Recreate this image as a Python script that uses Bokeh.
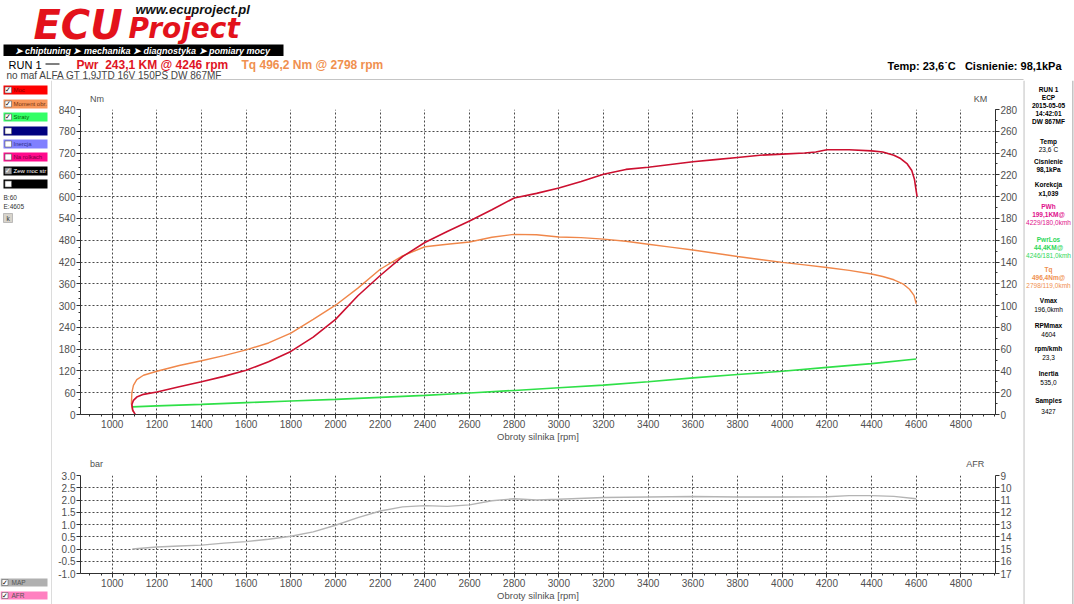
from bokeh.plotting import figure
from bokeh.models import (Range1d, LinearAxis, SingleIntervalTicker, NumeralTickFormatter)
from bokeh.layouts import column, row
from bokeh.core.properties import value
from bokeh.embed import file_html
from bokeh.resources import INLINE

# ---------------- data ----------------
rpm_pwr = [1103, 1092, 1088, 1095, 1110, 1140, 1200, 1300, 1400, 1500, 1600, 1700, 1800, 1900,
           2000, 2100, 2200, 2300, 2400, 2500, 2600, 2700, 2800, 2900, 3000, 3100, 3200, 3300,
           3400, 3500, 3600, 3700, 3800, 3900, 4000, 4100, 4150, 4200, 4246, 4300, 4400, 4450,
           4500, 4530, 4560, 4580, 4592, 4600, 4604]
pwr_km = [0, 4, 9, 13, 16, 18.5, 20.6, 25.5, 30, 35, 40.6, 48.5, 57.9, 71, 87.3, 109, 127.6,
          145, 157.9, 168, 177.6, 188, 198.8, 203, 207.9, 214, 220.6, 225, 227, 229.5, 232,
          234, 236, 238, 239, 240, 241, 243, 243.1, 243, 242, 241, 238, 235, 230, 224, 216,
          205, 200]

rpm_tq = [1092, 1086, 1088, 1095, 1110, 1140, 1200, 1300, 1400, 1500, 1600, 1700, 1800, 1900,
          2000, 2100, 2200, 2300, 2400, 2500, 2600, 2700, 2798, 2900, 3000, 3100, 3200, 3300,
          3400, 3500, 3600, 3700, 3800, 3900, 4000, 4100, 4200, 4300, 4400, 4450, 4500, 4540,
          4570, 4590, 4600]
tq_nm = [8, 30, 60, 80, 96, 108, 119, 135, 148, 162, 178, 197, 224, 262, 301, 348, 400, 437,
         462, 469, 475, 488, 496.2, 495, 489, 487, 483, 477, 469, 461, 453, 444, 435, 427, 419,
         412, 405, 397, 387, 380, 371, 360, 345, 328, 305]

rpm_loss = [1089, 1200, 1400, 1600, 1800, 2000, 2200, 2400, 2600, 2800, 3000, 3200, 3400,
            3600, 3800, 4000, 4200, 4400, 4600]
loss_km = [7, 7.9, 9.3, 10.9, 12.4, 13.9, 15.7, 17.6, 19.8, 22.1, 24.5, 27, 30, 33.6, 36.7,
           39.7, 43.3, 46.7, 50.9]

rpm_map = [1090, 1200, 1300, 1400, 1500, 1600, 1700, 1800, 1900, 2000, 2100, 2200, 2300, 2400,
           2500, 2600, 2700, 2800, 2900, 3000, 3200, 3400, 3600, 3800, 4000, 4200, 4300, 4400,
           4500, 4600]
map_bar = [0.0, 0.08, 0.12, 0.16, 0.24, 0.30, 0.40, 0.52, 0.70, 0.97, 1.28, 1.55, 1.72, 1.77,
           1.74, 1.80, 1.97, 2.05, 2.00, 2.03, 2.10, 2.12, 2.14, 2.12, 2.12, 2.13, 2.18, 2.18,
           2.15, 2.05]

legend_items = ["Moc", "Moment obr.", "Straty", "", "Inercja", "Na rolkach", "Zew moc str", ""]
sidebar_texts = ["RUN 1", "ECP", "2015-05-05", "14:42:01", "DW 867MF", "Temp", "23,6˙C",
                 "Cisnienie", "98,1kPa", "Korekcja", "x1,039", "PWh", "199,1KM@",
                 "4229/180,0kmh", "PwrLos", "44,4KM@", "4246/181,0kmh", "Tq", "496,4Nm@",
                 "2798/119,0kmh", "Vmax", "196,0kmh", "RPMmax", "4604", "rpm/kmh", "23,3",
                 "Inertia", "535,0", "Samples", "3427"]

# ---------------- layout constants ----------------
W = 1074
FONT = "Liberation Sans"
GRID = "#4a4a4a"
PANEL = "#8c8c8c"
LEFT_W, CENTER_W, RIGHT_W = 52, 971, 51
HEADER_H, BODY_H = 80, 524
STRIP1_H, TOP_H, SEP_H, STRIP2_H, BOT_H, LINE_H = 23, 341, 3, 22, 134, 1
AX_L, AX_R = 28, 28


def deco_fig(w, h, bg="white"):
    f = figure(width=w, height=h, x_range=Range1d(0, w), y_range=Range1d(h, 0),
               output_backend="svg", toolbar_location=None, title=None,
               x_axis_type=None, y_axis_type=None, min_border=0)
    f.outline_line_color = None
    f.background_fill_color = bg
    f.border_fill_color = bg
    f.grid.visible = False
    return f


def txt(f, x, y, t, size=10, color="#000000", style="normal", align="left",
        baseline="middle", font=FONT):
    f.text(x=[x], y=[y], text=[t], text_font=value(font), text_font_size=value(f"{size}px"),
           text_color=color, text_font_style=style, text_align=align, text_baseline=baseline)


def rect(f, x0, y0, x1, y1, fill, line=None, lw=1):
    f.quad(left=[x0], right=[x1], top=[y0], bottom=[y1], fill_color=fill,
           line_color=line, line_width=lw)


def style_axis(ax):
    ax.axis_line_color = "#303030"
    ax.major_tick_line_color = "#303030"
    ax.minor_tick_line_color = "#303030"
    ax.major_tick_out = 4
    ax.major_tick_in = 0
    ax.minor_tick_out = 2
    ax.minor_tick_in = 0
    ax.major_label_text_font = FONT
    ax.major_label_text_font_size = "10px"
    ax.major_label_text_color = "#505050"
    ax.major_label_standoff = 1


def chart_fig(h, frame_h, y_range):
    f = figure(width=CENTER_W, height=h, x_range=Range1d(858, 4955), y_range=y_range,
               output_backend="svg", toolbar_location=None, title=None,
               min_border_left=AX_L, min_border_right=AX_R,
               min_border_top=6, min_border_bottom=h - 6 - frame_h)
    f.outline_line_color = None
    f.background_fill_color = "white"
    f.border_fill_color = "white"
    f.xaxis.ticker = SingleIntervalTicker(interval=200, num_minor_ticks=4)
    for ax in f.xaxis + f.yaxis:
        style_axis(ax)
    f.xaxis.axis_label = "Obroty silnika [rpm]"
    f.xaxis.axis_label_standoff = 0
    f.xaxis.axis_label_text_font = FONT
    f.xaxis.axis_label_text_font_size = "9.5px"
    f.xaxis.axis_label_text_font_style = "normal"
    f.xaxis.axis_label_text_color = "#505050"
    for g in (f.xgrid, f.ygrid):
        g.grid_line_color = GRID
        g.grid_line_dash = "2 2"
        g.grid_line_width = 1
    return f


# ---------------- header ----------------
header = deco_fig(W, HEADER_H)
txt(header, 135, 9, "www.ecuproject.pl", size=13, style="bold italic", color="#111111")
txt(header, 33, 24, "ECU", size=40, style="bold italic", color="#e3121b", font="DejaVu Sans")
txt(header, 128, 28, "Project", size=28, style="bold italic", color="#e3121b",
    font="DejaVu Sans")
rect(header, 3, 44, 283, 55.5, "#000000")
txt(header, 14, 50, "➤ chiptuning  ➤ mechanika  ➤ diagnostyka  ➤ pomiary mocy", size=9,
    style="bold italic", color="#ffffff", font=FONT)
txt(header, 8, 64, "RUN 1", size=11)
header.segment(x0=[45], y0=[63.5], x1=[59], y1=[63.5], line_color="#000000", line_width=1)
txt(header, 76, 64, "Pwr\u00a0 243,1 KM @ 4246 rpm", size=12, style="bold", color="#e01424")
txt(header, 241, 64, "Tq 496,2 Nm @ 2798 rpm", size=12, style="bold", color="#f0904f")
txt(header, 6, 75, "no maf ALFA GT 1,9JTD 16V 150PS DW 867MF", size=10, color="#444444")
txt(header, 887, 65, "Temp: 23,6˙C\u00a0\u00a0 Cisnienie: 98,1kPa", size=11, style="bold")
rect(header, LEFT_W, 79, LEFT_W + CENTER_W, 80, PANEL)

# ---------------- left sidebar ----------------
left = deco_fig(LEFT_W, BODY_H)
rect(left, 51.2, 0, 52, BODY_H, PANEL)
legend_fill = ["#ff0000", "#f7965a", "#33ff66", "#000080", "#8080ff", "#ff0a8c", "#000000",
               "#000000"]
legend_text = ["#8b0000", "#7a3510", "#006400", "#000060", "#30308a", "#7a0040", "#ffffff",
               "#000000"]
legend_check = [True, True, True, False, False, False, True, False]
row_y = [5, 19, 32, 46, 59, 72, 86, 99]
for i, y0 in enumerate(row_y):
    rect(left, 3, y0, 47, y0 + 9, legend_fill[i])
    rect(left, 4.5, y0 + 1.5, 11, y0 + 7.5, "#a0a0a0" if i == 6 else "#ffffff",
         line="#606060", lw=0.6)
    if legend_check[i]:
        txt(left, 4.4, y0 + 4.7, "✓", size=7, style="bold",
            color="#ffffff" if i == 6 else "#000000", font="DejaVu Sans")
    if legend_items[i]:
        txt(left, 13, y0 + 4.8, legend_items[i], size=6, color=legend_text[i])
txt(left, 3, 117, "B:60", size=6.5, color="#333333")
txt(left, 3, 126, "E:4605", size=6.5, color="#333333")
rect(left, 3, 133, 12, 142, "#d8d4cc", line="#9a9a9a", lw=0.6)
txt(left, 7.5, 137.5, "k", size=6.5, color="#333333", align="center")
for y0, fill, t in [(498, "#b0b0b0", "MAP"), (511, "#ff80c0", "AFR")]:
    rect(left, 0, y0, 47, y0 + 8, fill)
    rect(left, 1.5, y0 + 1, 7.5, y0 + 7, "#ffffff", line="#606060", lw=0.6)
    txt(left, 1.4, y0 + 4.2, "✓", size=7, style="bold", font="DejaVu Sans")
    txt(left, 11, y0 + 4.3, t, size=6.5, color="#555555")

# ---------------- right sidebar ----------------
right = deco_fig(RIGHT_W, BODY_H)
rect(right, 0, 0, 0.8, BODY_H, PANEL)
rect(right, 49, 0, 49.8, BODY_H, PANEL)
side_y = [9, 17, 25, 33, 41, 61, 69, 81, 89, 104, 113, 126, 134, 142, 159, 167, 175, 189, 197,
          205, 220, 229, 245, 254, 268, 277, 293, 302, 320, 331]
side_col = (["#000000"] * 11 + ["#e0108c"] * 3 + ["#2ed85a"] * 3 + ["#f0904f"] * 3
            + ["#000000"] * 10)
side_bold = [True, True, True, True, True, True, False, True, True, True, True, True, True,
             False, True, True, False, True, True, False, True, False, True, False, True,
             False, True, False, True, False]
for y, t, c, b in zip(side_y, sidebar_texts, side_col, side_bold):
    txt(right, 25, y, t, size=6.5, color=c, style="bold" if b else "normal", align="center")

# ---------------- strip with unit labels above main chart ----------------
strip1 = deco_fig(CENTER_W, STRIP1_H)
txt(strip1, 10, 18, "Nm", size=9, color="#505050")
txt(strip1, 948, 18, "KM", size=9, color="#505050")

# ---------------- main chart ----------------
top = chart_fig(TOP_H, 308, Range1d(0, 840))
top.yaxis.ticker = SingleIntervalTicker(interval=60, num_minor_ticks=3)
top.extra_y_ranges = {"km": Range1d(0, 280)}
ax_km = LinearAxis(y_range_name="km", ticker=SingleIntervalTicker(interval=20, num_minor_ticks=2))
style_axis(ax_km)
top.add_layout(ax_km, "right")
top.line(rpm_loss, loss_km, y_range_name="km", line_color="#2fe048", line_width=1.6)
top.line(rpm_tq, tq_nm, line_color="#f0874a", line_width=1.4)
top.line(rpm_pwr, pwr_km, y_range_name="km", line_color="#cc1030", line_width=1.6)

# ---------------- separator + strip above lower chart ----------------
sep = deco_fig(CENTER_W, SEP_H, bg=PANEL)
strip2 = deco_fig(CENTER_W, STRIP2_H)
txt(strip2, 10, 16, "bar", size=9, color="#505050")
txt(strip2, 940, 16, "AFR", size=9, color="#505050")

# ---------------- lower chart (MAP / AFR) ----------------
bot = chart_fig(BOT_H, 100, Range1d(-1, 3))
bot.yaxis.ticker = SingleIntervalTicker(interval=0.5, num_minor_ticks=0)
bot.yaxis.formatter = NumeralTickFormatter(format="0.0")
bot.extra_y_ranges = {"afr": Range1d(17, 9)}
ax_afr = LinearAxis(y_range_name="afr", ticker=SingleIntervalTicker(interval=1, num_minor_ticks=0))
style_axis(ax_afr)
bot.add_layout(ax_afr, "right")
bot.line(rpm_map, map_bar, line_color="#b4b4b4", line_width=1.4)

bottom_line = deco_fig(CENTER_W, LINE_H, bg=PANEL)

center = column(strip1, top, sep, strip2, bot, bottom_line, spacing=0)
body = row(left, center, right, spacing=0)
layout = column(header, body, spacing=0)
open("out.html", "w").write(file_html(layout, INLINE))
